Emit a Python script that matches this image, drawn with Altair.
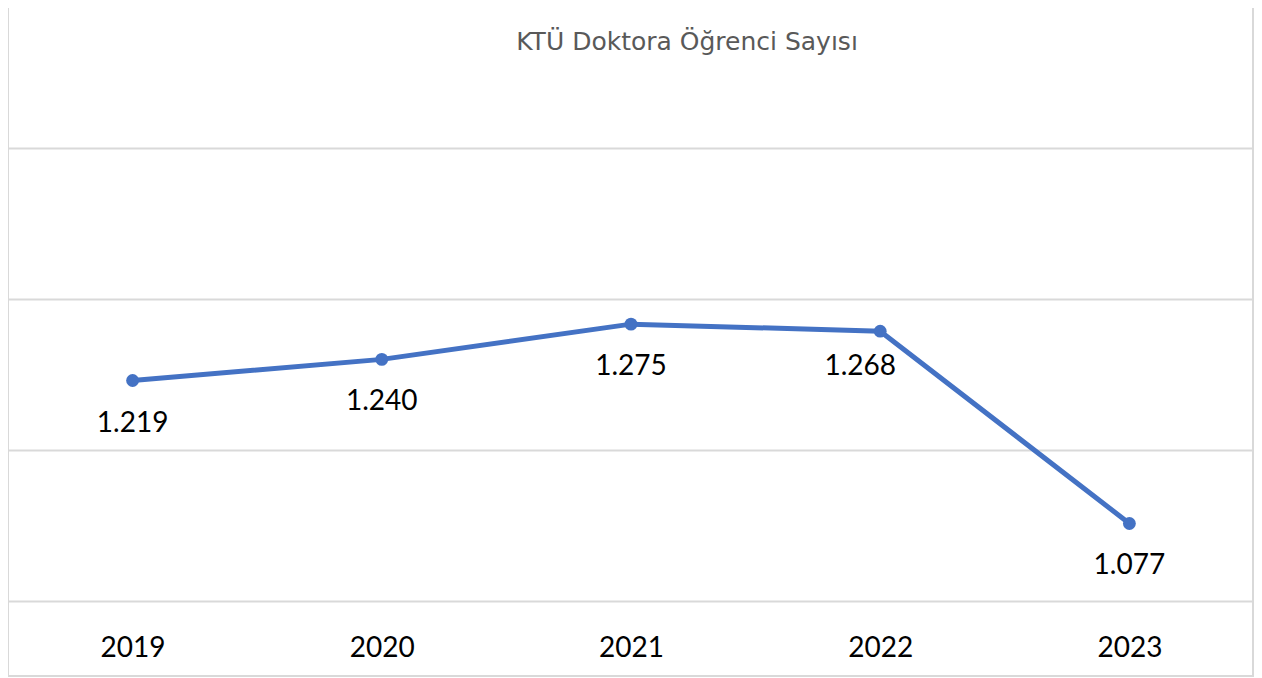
import altair as alt
import pandas as pd

years = ["2019", "2020", "2021", "2022", "2023"]
students = [1219, 1240, 1275, 1268, 1077]
labels = [f"{v:,}".replace(",", ".") for v in students]
title_text = "KTÜ Doktora Öğrenci Sayısı"
grid_values = [1000, 1150, 1300, 1450]

df = pd.DataFrame({"year": years, "value": students, "label": labels})

W, H = 1246, 593
BLUE = "#4472C4"
GRID = "#d9d9d9"
NUM_FONT = "Lato, sans-serif"
NUM_SIZE = 28

x_enc = alt.X(
    "year:O",
    sort=years,
    scale=alt.Scale(type="point", padding=0.5),
    axis=alt.Axis(
        title=None, labelAngle=0, ticks=False, domain=False, grid=False,
        labelFontSize=NUM_SIZE, labelFont=NUM_FONT, labelColor="#000000",
        labelPadding=33, labelBaseline="top",
    ),
)
y_enc = alt.Y(
    "value:Q",
    scale=alt.Scale(domain=[1000, 1589], nice=False, zero=False),
    axis=alt.Axis(
        title=None, labels=False, ticks=False, domain=False,
        values=grid_values, grid=True, gridColor=GRID, gridWidth=2,
    ),
)

base = alt.Chart(df)

line = base.mark_line(color=BLUE, strokeWidth=5).encode(x=x_enc, y=y_enc)
pts = base.mark_circle(color=BLUE, size=165, opacity=1).encode(x=x_enc, y=y_enc)

lab_main = base.transform_filter(alt.datum.year != "2022").mark_text(
    fontSize=NUM_SIZE, font=NUM_FONT, color="#000000", dy=43, baseline="middle"
).encode(x=x_enc, y=y_enc, text="label:N")
lab_2022 = base.transform_filter(alt.datum.year == "2022").mark_text(
    fontSize=NUM_SIZE, font=NUM_FONT, color="#000000", dy=36, dx=-20, baseline="middle"
).encode(x=x_enc, y=y_enc, text="label:N")

title_df = pd.DataFrame({"t": [title_text]})
title = alt.Chart(title_df).mark_text(
    fontSize=25, font="DejaVu Sans", color="#595959", baseline="middle", align="center"
).encode(text="t:N", x=alt.value(679), y=alt.value(34))

frame_df = pd.DataFrame({"k": [0]})
left_b = alt.Chart(frame_df).mark_rule(color=GRID, strokeWidth=2).encode(
    x=alt.value(0), y=alt.value(0), y2=alt.value(668))
right_b = alt.Chart(frame_df).mark_rule(color=GRID, strokeWidth=2).encode(
    x=alt.value(W - 1), y=alt.value(0), y2=alt.value(668))
bottom_b = alt.Chart(frame_df).mark_rule(color=GRID, strokeWidth=2).encode(
    x=alt.value(0), x2=alt.value(W), y=alt.value(668))

chart = alt.layer(
    left_b, right_b, bottom_b, line, pts, lab_main, lab_2022, title
).properties(
    width=W, height=H,
    background="#ffffff",
    autosize=alt.AutoSizeParams(type="none"),
    padding={"left": 0, "top": 0, "right": 0, "bottom": 76},
).configure_view(strokeWidth=0)

chart.save("out.html", embed_options={"renderer": "svg", "actions": False})
